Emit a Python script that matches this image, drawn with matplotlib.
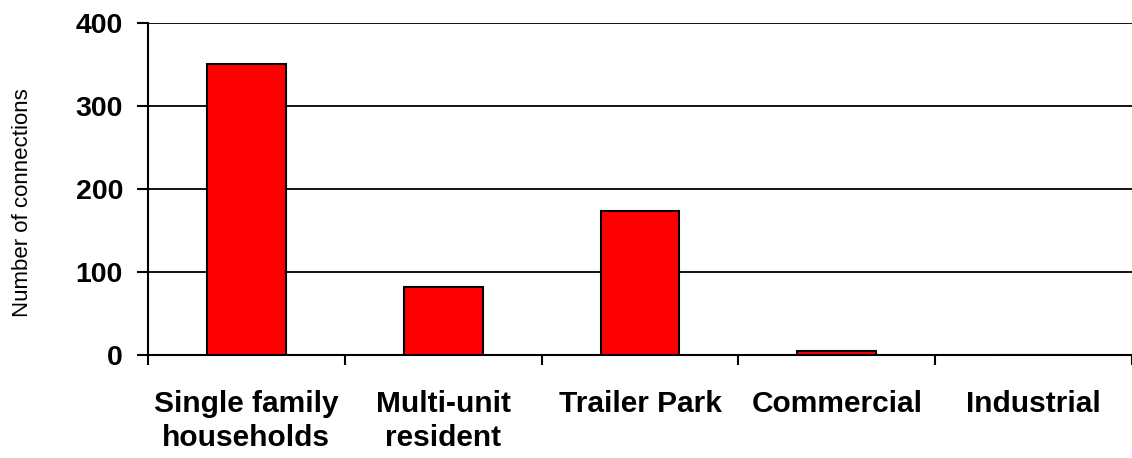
import matplotlib.pyplot as plt
import numpy as np

categories = ["Single family\nhouseholds", "Multi-unit\nresident", "Trailer Park", "Commercial", "Industrial"]
connections = [350, 82, 174, 5, 0]
y_ticks = [0, 100, 200, 300, 400]

plt.rcParams["font.family"] = ["Liberation Sans", "DejaVu Sans"]

fig = plt.figure(figsize=(11.32, 4.58), dpi=100)
ax = fig.add_axes([0.1307, 0.2249, 0.8693, 0.7249])

x = np.arange(len(categories))
ax.bar(x, connections, width=0.4, color="#ff0000", edgecolor="black", linewidth=1.5, zorder=3)

ax.set_xlim(-0.5, len(categories) - 0.5)
ax.set_ylim(0, 400)
ax.set_yticks(y_ticks)
ax.set_yticklabels([str(v) for v in y_ticks], fontsize=20.5, fontweight="bold")
ax.yaxis.grid(True, color="black", linewidth=1.3, zorder=0)
ax.tick_params(axis="y", length=8, width=1.5, pad=10)

# category labels centred, ticks between categories
ax.set_xticks(x)
ax.set_xticklabels(categories, fontsize=21.5, fontweight="bold", linespacing=1.3)
ax.tick_params(axis="x", length=0, pad=25)
ax.set_xticks(np.arange(len(categories) + 1) - 0.5, minor=True)
ax.tick_params(axis="x", which="minor", length=7, width=1.5)

for s in ["top", "right"]:
    ax.spines[s].set_visible(False)
ax.spines["left"].set_linewidth(1.5)
ax.spines["bottom"].set_linewidth(1.5)

ax.set_ylabel("Number of connections", fontsize=16)
ax.yaxis.set_label_coords(-0.117, 0.458)

fig.savefig("out.png", dpi=100)
